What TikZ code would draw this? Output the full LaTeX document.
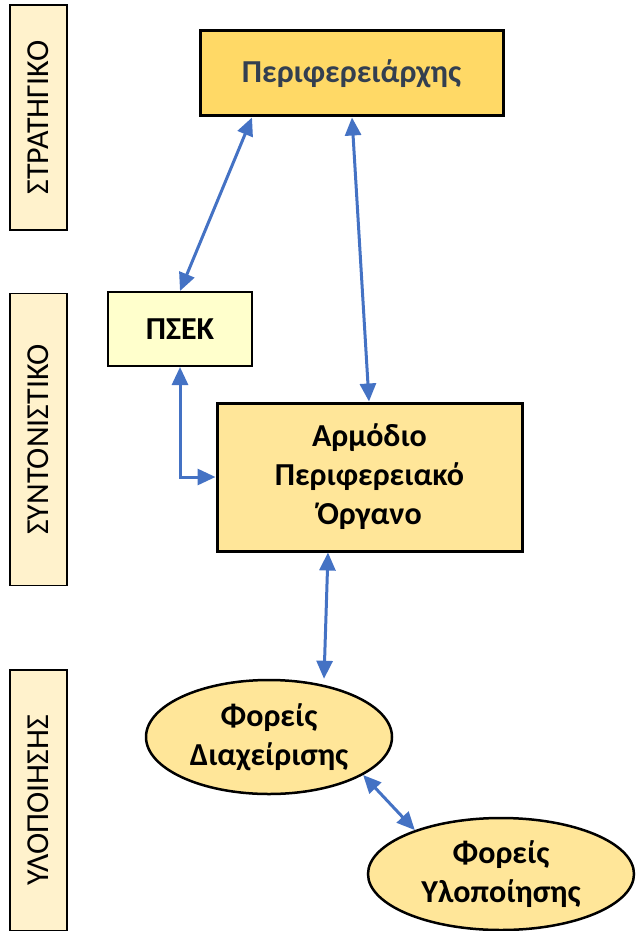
\documentclass[tikz,border=0pt]{standalone}
\usepackage{fontspec}
\setmainfont{Carlito}
\usepackage{xcolor}
\definecolor{chiefgold}{HTML}{FFD966}
\definecolor{organgold}{HTML}{FFE699}
\definecolor{psekyellow}{HTML}{FFFFCC}
\definecolor{tiercream}{HTML}{FFF2CC}
\definecolor{linkblue}{HTML}{4472C4}
\definecolor{slatetext}{HTML}{333F50}
\usepackage{tikz}
\usetikzlibrary{arrows.meta, positioning, shapes.geometric}
\tikzset{
    tier/.style={
        rectangle, draw, line width=1.5pt,
        fill=tiercream,
        inner sep=0pt,
        minimum width=57pt,
        font=\fontsize{32}{34}\selectfont
    },
    unit/.style={
        rectangle, draw, line width=3pt,
        inner sep=0pt, align=center,
        font=\fontsize{32}{39}\selectfont\bfseries
    },
    body/.style={
        ellipse, draw, line width=2.5pt,
        fill=organgold,
        inner sep=0pt, align=center,
        font=\fontsize{32}{39}\selectfont\bfseries
    },
    conn/.style={
        linkblue, line width=3pt,
        {Triangle[length=18pt, width=16pt]}-{Triangle[length=18pt, width=16pt]},
    },
}

\begin{document}
\begin{tikzpicture}[x=1pt, y=1pt]
            \useasboundingbox (0,0) rectangle (636,-931);
            % Levels on the left
            \node[tier, minimum height=225pt] (strat) at (38.5,-117.5) {\rotatebox{90}{ΣΤΡΑΤΗΓΙΚΟ}};
            \node[tier, minimum height=292pt, below=62pt of strat] (synt) {\rotatebox{90}{ΣΥΝΤΟΝΙΣΤΙΚΟ}};
            \node[tier, minimum height=261pt, below=83pt of synt] (ylop) {\rotatebox{90}{ΥΛΟΠΟΙΗΣΗΣ}};

            % Bodies
            \node[unit, fill=chiefgold, text=slatetext, minimum width=303pt, minimum height=85pt] (chief) at (351.5,-73.5) {Περιφερειάρχης};
            \node[unit, fill=psekyellow, line width=2pt, minimum width=144pt, minimum height=74pt] (psek) at (180,-329) {ΠΣΕΚ};
            \node[unit, fill=organgold, minimum width=305pt, minimum height=148pt] (organ) at (369.5,-477) {Αρμόδιο\\Περιφερειακό\\Όργανο};
            \node[body, minimum width=246pt, minimum height=114pt] (fdiax) at (269,-737) {Φορείς\\Διαχείρισης};
            \node[body, minimum width=266pt, minimum height=112pt] (fylop) at (501,-874) {Φορείς\\Υλοποίησης};

            \draw[conn] ([xshift=-99.5pt]chief.south) -- (psek.north);
            \draw[conn] ([xshift=0.5pt]chief.south) -- ([xshift=-0.5pt]organ.north);
            \draw[conn] (psek.south) |- (organ.west);
            \draw[conn] ([xshift=-41.5pt]organ.south) -- ([xshift=55pt]fdiax.north);
            \draw[conn] (fdiax.-22) -- (fylop.153);

        \end{tikzpicture}
\end{document}
